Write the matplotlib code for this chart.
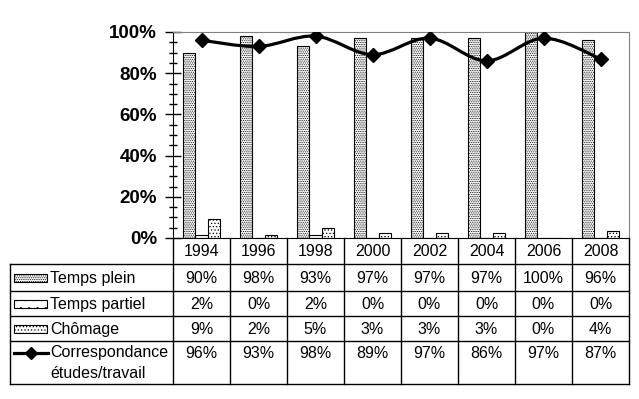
import numpy as np
import matplotlib
matplotlib.use('Agg')
import matplotlib.pyplot as plt
from matplotlib.path import Path
from matplotlib.patches import PathPatch, Rectangle

years = ['1994', '1996', '1998', '2000', '2002', '2004', '2006', '2008']
temps_plein = [90, 98, 93, 97, 97, 97, 100, 96]
temps_partiel = [2, 0, 2, 0, 0, 0, 0, 0]
chomage = [9, 2, 5, 3, 3, 3, 0, 4]
correspondance = [96, 93, 98, 89, 97, 86, 97, 87]
# what the bars look like (table shows rounded values)
bar_partiel = [1.5, 0, 1.5, 0, 0, 0, 0, 0]
bar_chomage = [9, 1.5, 5, 2.5, 2.5, 2.5, 0, 3.5]

series_names = ['Temps plein', 'Temps partiel', 'Chômage', 'Correspondance\nétudes/travail']
hatches = ['.........', '..', '.....']

plt.rcParams['font.family'] = ['Liberation Sans', 'DejaVu Sans']
plt.rcParams['hatch.linewidth'] = 0.5

W, H = 639, 399
fig = plt.figure(figsize=(W / 100, H / 100), dpi=100)

# pixel layout
x0, x1 = 173, 629
y_top, y_bot = 32, 238
ax = fig.add_axes([x0 / W, 1 - y_bot / H, (x1 - x0) / W, (y_bot - y_top) / H])

n = len(years)
x = np.arange(n)
bw = 0.22
ax.bar(x - bw, temps_plein, bw, color='white', edgecolor='black', hatch=hatches[0], linewidth=0.8)
ax.bar(x, bar_partiel, bw, color='white', edgecolor='black', hatch=hatches[1], linewidth=0.8)
ax.bar(x + bw, bar_chomage, bw, color='white', edgecolor='black', hatch=hatches[2], linewidth=0.8)

# smoothed line (bezier through the points)
pts = np.column_stack([x, correspondance]).astype(float)
ext = np.vstack([pts[0], pts, pts[-1]])
verts = [tuple(pts[0])]
codes = [Path.MOVETO]
for i in range(n - 1):
    p0, p1, p2, p3 = ext[i], ext[i + 1], ext[i + 2], ext[i + 3]
    c1 = p1 + (p2 - p0) / 6
    c2 = p2 - (p3 - p1) / 6
    verts += [tuple(c1), tuple(c2), tuple(p2)]
    codes += [Path.CURVE4] * 3
ax.add_patch(PathPatch(Path(verts, codes), fill=False, lw=2.3, edgecolor='black', zorder=4))
ax.plot(x, correspondance, ls='none', marker='D', ms=7.5, color='black', zorder=5)

ax.set_xlim(-0.5, n - 0.5)
ax.set_ylim(0, 100)
ax.set_yticks(np.arange(0, 101, 20))
ax.set_yticks(np.arange(0, 101, 5), minor=True)
ax.set_yticklabels(['%d%%' % v for v in range(0, 101, 20)], fontsize=13.5, fontweight='bold')
ax.tick_params(axis='y', which='major', direction='inout', length=11, width=1, pad=6)
ax.tick_params(axis='y', which='minor', direction='inout', length=6, width=1)
ax.set_xticks([])
ax.spines['top'].set_color('#808080')
ax.spines['right'].set_color('#808080')
for s in ['left', 'bottom']:
    ax.spines[s].set_color('black')

# data table drawn in pixel coordinates
tb = fig.add_axes([0, 0, 1, 1], facecolor='none')
tb.set_xlim(0, W)
tb.set_ylim(H, 0)
tb.axis('off')

tx0 = 10
col_w = (x1 - x0) / n
rows = [238, 264, 291, 316, 341, 384]
lk = dict(color='black', lw=1)
tb.plot([tx0, x1], [rows[-1], rows[-1]], **lk)
for r in rows[1:-1]:
    tb.plot([tx0, x1], [r, r], **lk)
tb.plot([tx0, tx0], [rows[1], rows[-1]], **lk)
for j in range(n + 1):
    tb.plot([x0 + j * col_w] * 2, [rows[0], rows[-1]], **lk)

fs = 11.5
for j, yr in enumerate(years):
    cx = x0 + (j + 0.5) * col_w
    tb.text(cx, (rows[0] + rows[1]) / 2 + 1, yr, ha='center', va='center', fontsize=fs)
    for k, vals in enumerate([temps_plein, temps_partiel, chomage]):
        tb.text(cx, (rows[k + 1] + rows[k + 2]) / 2 + 1, '%d%%' % vals[j],
                ha='center', va='center', fontsize=fs)
    tb.text(cx, rows[4] + 12, '%d%%' % correspondance[j], ha='center', va='center', fontsize=fs)

# legend keys + names
for k in range(3):
    yc = (rows[k + 1] + rows[k + 2]) / 2
    tb.add_patch(Rectangle((14, yc - 4), 33, 8, facecolor='white', edgecolor='black',
                           hatch=hatches[k], lw=0.8))
    tb.text(50, yc + 1, series_names[k], ha='left', va='center', fontsize=fs)
yl = rows[4] + 12
tb.plot([14, 48], [yl, yl], color='black', lw=2.3)
tb.plot([31], [yl], marker='D', ms=6, color='black')
tb.text(50, yl, series_names[3].split('\n')[0], ha='left', va='center', fontsize=fs)
tb.text(50, yl + 21, series_names[3].split('\n')[1], ha='left', va='center', fontsize=fs)

fig.savefig('out.png', dpi=100)
